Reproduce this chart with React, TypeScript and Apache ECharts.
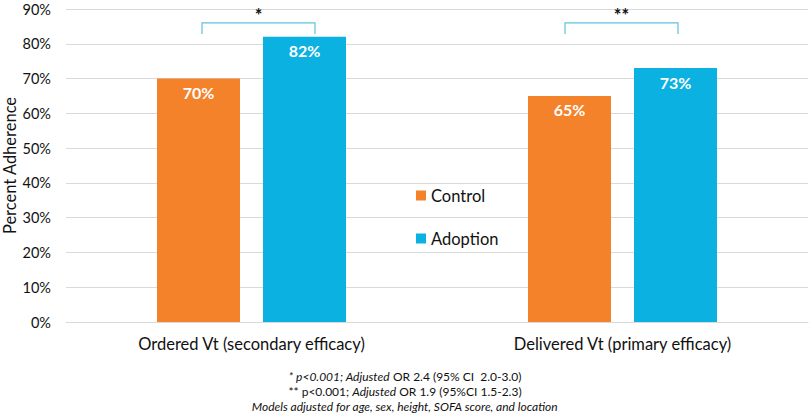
import React, { useEffect, useRef } from "react";
import * as echarts from "echarts";

const categories = ["Ordered Vt (secondary efficacy)", "Delivered Vt (primary efficacy)"];
const controlValues = [70, 65];
const adoptionValues = [82, 73];
const seriesNames = ["Control", "Adoption"];
const significance = ["*", "**"];
const bracketLevel = [86, 86];
const yTicks = [0, 10, 20, 30, 40, 50, 60, 70, 80, 90];
const footnotes = [
  "{i|* p<0.001; Adjusted} {n|OR 2.4 (95% CI  2.0-3.0)}",
  "{n|** p<0.001;} {i|Adjusted} {n|OR 1.9 (95%CI 1.5-2.3)}",
  "{i|Models adjusted for age, sex, height, SOFA score, and location}",
];

const FONT = "Lato, 'Noto Sans', sans-serif";
const ORANGE = "#F4822B";
const BLUE = "#0BB1E0";
const BRACKET = "#5CC3DD";
const TEXT = "#111";
// bracket leg offsets (px) from the category centre
const bracketOffsets = [
  [-49.5, 63.5],
  [-57.5, 55.5],
];

export default function App() {
  const ref = useRef<HTMLDivElement>(null);
  useEffect(() => {
    if (!ref.current) return;
    const chart = echarts.init(ref.current, undefined, { renderer: "svg" });
    const barWidth = 83;
    const barGapPx = 23;
    const labelStyle = {
      show: true,
      position: "insideTop",
      distance: 6,
      formatter: "{c}%",
      color: "#fff",
      fontWeight: "bold",
      fontSize: 16,
      fontFamily: FONT,
    };
    chart.setOption({
      animation: false,
      textStyle: { fontFamily: FONT },
      grid: { left: 66, right: 2, top: 9, bottom: 95, containLabel: false, outerBoundsMode: "none" },
      legend: {
        orient: "vertical",
        left: 416,
        top: 187,
        padding: 0,
        itemWidth: 10,
        itemHeight: 10,
        itemGap: 26,
        icon: "rect",
        data: seriesNames,
        textStyle: { fontFamily: FONT, fontSize: 16.5, color: TEXT },
      },
      xAxis: {
        type: "category",
        data: categories,
        axisTick: { show: false },
        axisLine: { lineStyle: { color: "#d9d9d9" } },
        axisLabel: { fontFamily: FONT, fontSize: 16.5, color: TEXT, margin: 13 },
      },
      yAxis: {
        type: "value",
        min: yTicks[0],
        max: yTicks[yTicks.length - 1],
        interval: 10,
        name: "Percent Adherence",
        nameLocation: "middle",
        nameGap: 48,
        nameMoveOverlap: false,
        nameTextStyle: { fontFamily: FONT, fontSize: 16.5, color: TEXT },
        axisLabel: { formatter: "{value}%", fontFamily: FONT, fontSize: 14.5, color: TEXT, margin: 15 },
        splitLine: { lineStyle: { color: "#d9d9d9" } },
        axisLine: { show: false },
        axisTick: { show: false },
      },
      series: [
        {
          name: seriesNames[0],
          type: "bar",
          data: controlValues,
          barWidth,
          barGap: (barGapPx / barWidth) * 100 + "%",
          itemStyle: { color: ORANGE },
          label: labelStyle,
        },
        {
          name: seriesNames[1],
          type: "bar",
          data: adoptionValues,
          barWidth,
          itemStyle: { color: BLUE },
          label: labelStyle,
        },
        {
          type: "custom",
          silent: true,
          data: categories.map((_, i) => [i, bracketLevel[i]]),
          renderItem: (params: any, api: any) => {
            const idx = api.value(0);
            const top = api.coord([idx, api.value(1)]);
            const legBottom = api.coord([idx, api.value(1) - 3.2]);
            const cx = top[0];
            const off = bracketOffsets[params.dataIndex];
            const xl = cx + off[0];
            const xr = cx + off[1];
            return {
              type: "group",
              children: [
                {
                  type: "polyline",
                  shape: {
                    points: [
                      [xl, legBottom[1]],
                      [xl, top[1]],
                      [xr, top[1]],
                      [xr, legBottom[1]],
                    ],
                  },
                  style: { stroke: BRACKET, lineWidth: 1.2, fill: "none" },
                },
                {
                  type: "text",
                  style: {
                    text: significance[params.dataIndex],
                    x: (xl + xr) / 2,
                    y: top[1] - 8,
                    align: "center",
                    verticalAlign: "middle",
                    fontSize: 18,
                    fontWeight: "bold",
                    fontFamily: FONT,
                    fill: TEXT,
                  },
                },
              ],
            };
          },
        },
      ],
      graphic: footnotes.map((t, i) => ({
        type: "text",
        left: "center",
        top: 370 + i * 15,
        style: {
          text: t,
          fontSize: 12,
          fontFamily: FONT,
          fill: TEXT,
          rich: {
            i: { fontStyle: "italic", fontSize: 12, fontFamily: FONT, fill: TEXT },
            n: { fontStyle: "normal", fontSize: 12, fontFamily: FONT, fill: TEXT },
          },
        },
      })),
    });
    return () => chart.dispose();
  }, []);
  return (
    <div
      ref={ref}
      style={{ position: "fixed", left: 0, top: 0, width: 810, height: 417, background: "#fff" }}
    />
  );
}
